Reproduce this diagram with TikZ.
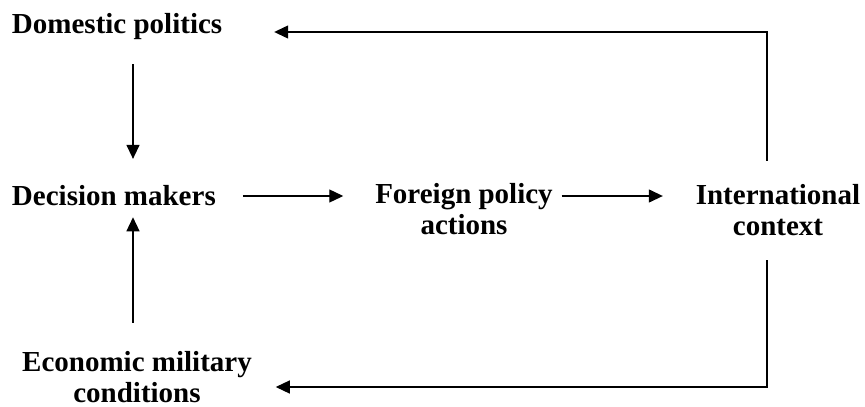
\documentclass[tikz,border=0pt]{standalone}
\usepackage{fontspec}
\setmainfont{Liberation Serif}
\usetikzlibrary{arrows.meta}
\begin{document}
\begin{tikzpicture}[x=1pt,y=-1pt,
  lbl/.style={inner sep=0pt, outer sep=0pt, font=\fontsize{29}{31}\selectfont\bfseries, align=center},
  arr/.style={line width=1.3pt, -{Triangle[length=14pt,width=13pt]}}]
\useasboundingbox (0,0) rectangle (865,407);
\node[lbl, anchor=base west] (dp) at (12,33) {Domestic politics};
\node[lbl, anchor=base west] (dm) at (12,205) {Decision makers};
\node[lbl, anchor=base] (fp) at (464,234) {Foreign policy\\actions};
\node[lbl, anchor=base] (ic) at (778,235) {International\\context};
\node[lbl, anchor=base] (ec) at (137,402) {Economic military\\conditions};
\coordinate (vx) at (133,0);
\coordinate (rx) at (767,0);
\coordinate (ty) at (0,32);
\coordinate (by) at (0,387);
\coordinate (my) at (0,196);
% vertical arrows on the left
\draw[arr, shorten <=25pt, shorten >=26pt] (dp.south -| vx) -- (dm.north -| vx);
\draw[arr, shorten <=28pt, shorten >=12pt] (ec.north -| vx) -- (dm.south -| vx);
% horizontal flow
\draw[arr, shorten <=27pt, shorten >=32pt] (dm.east |- my) -- (fp.west |- my);
\draw[arr, shorten <=9pt, shorten >=33pt] (fp.east |- my) -- (ic.west |- my);
% feedback loops
\draw[arr, shorten <=23pt, shorten >=52pt] (ic.north -| rx) |- (dp.east |- ty);
\draw[arr, shorten <=25pt, shorten >=24pt] (ic.south -| rx) |- (ec.east |- by);
\end{tikzpicture}
\end{document}
